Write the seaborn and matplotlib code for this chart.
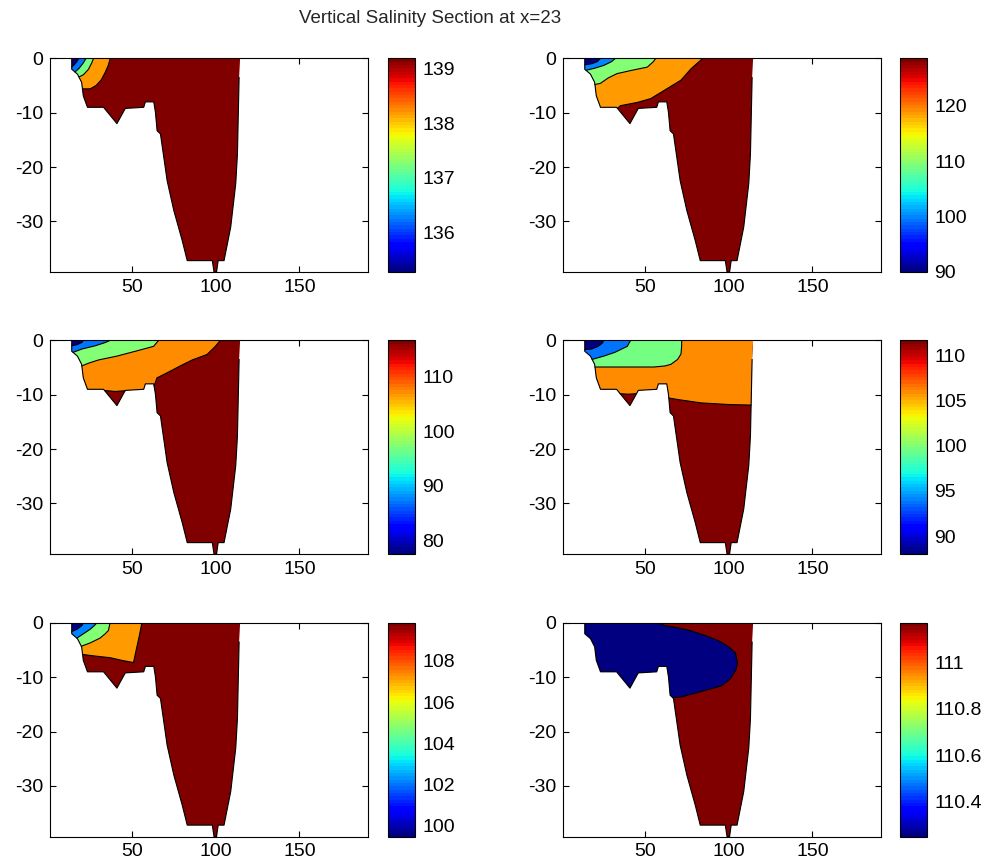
import numpy as np
import matplotlib
matplotlib.use('Agg')
import matplotlib.pyplot as plt
from matplotlib.colors import Normalize
from matplotlib.patches import Polygon
from matplotlib.ticker import FormatStrFormatter
import matplotlib.cm as cm
import seaborn as sns

sns.set_style('ticks')
plt.rcParams['font.family'] = ['Liberation Sans', 'DejaVu Sans']
plt.rcParams['axes.unicode_minus'] = False

# bottom outline of the section: distance along section, depth (m)
bathy_x = [14.0, 14.0, 17.4, 19.9, 20.9, 23.4, 33.0, 41.0, 46.0, 57.0, 58.0, 63.0, 64.0, 65.0,
           67.0, 71.0, 75.0, 80.0, 83.0, 98.0, 99.0, 100.5, 101.5, 105.0, 109.0, 112.0, 113.0,
           114.0, 114.6]
bathy_z = [0.0, -2.0, -2.9, -4.4, -6.9, -9.0, -9.0, -12.0, -9.2, -9.0, -8.0, -8.0, -9.9, -13.3,
           -13.9, -22.5, -28.0, -33.5, -37.2, -37.2, -39.3, -39.3, -37.2, -37.2, -31.0, -23.0,
           -17.6, -3.5, 0.0]

# colour range and ticks of each panel
cbar_min = [135.28, 89.9, 77.6, 88.0, 99.46, 110.25]
cbar_max = [139.18, 128.6, 116.5, 111.7, 109.85, 111.17]
cbar_ticks = [[136, 137, 138, 139], [90, 100, 110, 120], [80, 90, 100, 110],
              [90, 95, 100, 105, 110], [100, 102, 104, 106, 108], [110.4, 110.6, 110.8, 111]]

# contour lines of each panel (from the wall to the surface), the salinity
# on the filled side and which side is filled
p1_x = [[20.4, 25, 28.5, 31.5, 33.8, 35.8, 37],
        [18.5, 21, 24, 26, 27],
        [16.0, 18.5, 21, 22.5],
        [14.0, 16, 17.5, 18]]
p1_z = [[-5.6, -5.6, -5.0, -4.0, -2.7, -1.3, 0],
        [-3.4, -3.0, -2.0, -0.8, 0],
        [-2.5, -1.8, -0.8, 0],
        [-1.6, -1.0, -0.4, 0]]
p1_level = [138.2, 137.23, 136.25, 135.28]
p1_side = ['up', 'up', 'up', 'up']

p2_x = [[33.5, 35.3, 45.4, 53.4, 61.4, 71.5, 77.5, 84.5],
        [20.1, 23.3, 28, 33.3, 42, 51.4, 55, 56.4],
        [14.8, 20, 25.3, 30, 32.3],
        [14.0, 18, 21.5, 23.3]]
p2_z = [[-9.19, -8.7, -8.1, -7.4, -5.9, -4.0, -1.9, 0],
        [-4.8, -4.6, -3.6, -2.8, -2.2, -1.6, -0.6, 0],
        [-2.2, -1.8, -1.3, -0.6, 0],
        [-1.2, -1.0, -0.6, 0]]
p2_level = [118.9, 109.25, 99.6, 89.9]
p2_side = ['up', 'up', 'up', 'up']

p3_x = [[63.2, 64.9, 72, 78.8, 86, 94.8, 99.5, 102.8],
        [33.6, 40, 45.9],
        [20.0, 24, 30, 40.9, 52, 62.9, 65.9],
        [14.8, 20, 28, 34, 36.9],
        [14.0, 17, 20, 21]]
p3_z = [[-8.4, -6.9, -5.8, -4.7, -3.6, -2.6, -1.2, 0],
        [-9.22, -9.4, -9.26],
        [-4.7, -4.2, -3.6, -2.9, -2.0, -1.1, 0],
        [-2.2, -1.6, -1.0, -0.4, 0],
        [-1.0, -0.8, -0.4, 0]]
p3_level = [106.8, 116.5, 97.05, 87.3, 77.6]
p3_side = ['up', 'down', 'up', 'up', 'up']

p4_x = [[64.2, 70, 83.5, 100, 113.4],
        [35.1, 40, 44.9],
        [20.1, 40, 55.4, 62, 65.5, 69.5, 71.5, 71.9, 71.9],
        [18.4, 25.3, 32, 39.4, 41.4],
        [14.0, 18, 22, 24.5, 25.3]]
p4_z = [[-10.6, -10.9, -11.5, -11.8, -11.9],
        [-9.8, -9.9, -9.8],
        [-4.9, -4.9, -4.9, -4.7, -4.4, -3.5, -2.5, -1.0, 0],
        [-3.5, -2.9, -2.2, -1.1, 0],
        [-1.7, -1.6, -1.1, -0.5, 0]]
p4_level = [105.8, 111.7, 99.85, 93.9, 88.0]
p4_side = ['up', 'down', 'up', 'up', 'up']

p5_x = [[20.4, 28, 36.9, 44, 50.9, 52.5, 54.3, 55.9],
        [19.7, 24.9, 30.9, 34, 35.9, 36.9],
        [17.1, 20, 24.9, 27.5, 29],
        [14.0, 17, 20, 21]]
p5_z = [[-5.8, -6.1, -6.4, -6.9, -7.3, -5.0, -2.5, 0],
        [-4.3, -3.7, -2.8, -2.0, -1.4, 0],
        [-2.8, -2.2, -1.2, -0.5, 0],
        [-1.6, -1.2, -0.5, 0]]
p5_level = [107.25, 104.66, 102.06, 99.46]
p5_side = ['up', 'up', 'up', 'up']

p6_x = [[66.5, 72, 81.5, 95.6, 101, 104.5, 105.2, 104, 99.6, 94, 87.5, 78, 69.5, 62, 57.4]]
p6_z = [[-13.75, -13.6, -12.8, -11.6, -10.3, -8.5, -7.3, -5.5, -4.3, -3.3, -2.5, -1.5, -0.9,
         -0.5, 0]]
p6_level = [110.25]
p6_side = ['up']

panels = [(p1_x, p1_z, p1_level, p1_side), (p2_x, p2_z, p2_level, p2_side),
          (p3_x, p3_z, p3_level, p3_side), (p4_x, p4_z, p4_level, p4_side),
          (p5_x, p5_z, p5_level, p5_side), (p6_x, p6_z, p6_level, p6_side)]

jet64 = matplotlib.colormaps['jet'].resampled(64)
pts = np.column_stack([bathy_x, bathy_z])


def seg_index(p):
    # outline segment closest to point p
    a, b = pts[:-1], pts[1:]
    ab = b - a
    t = np.clip(((p - a) * ab).sum(1) / (ab ** 2).sum(1), 0, 1)
    d = np.hypot(*(a + ab * t[:, None] - p).T)
    return int(np.argmin(d)) + 1


def region(xs, zs, side):
    line = np.column_stack([xs, zs])
    i = seg_index(line[0])
    j = seg_index(line[-1]) if zs[-1] < -0.01 else len(pts)
    if side == 'up':
        return np.vstack([pts[:i], line, pts[j:]])
    return np.vstack([line, pts[i:j][::-1]])


fig = plt.figure(figsize=(9.86, 8.65), dpi=100)
col_left = [0.0507, 0.571]
cb_left = [0.3935, 0.9128]
row_bottom = [0.6855, 0.3595, 0.0329]
ax_w, ax_h, cb_w = 0.3225, 0.247, 0.0275

for k, (lx, lz, lev, side) in enumerate(panels):
    r, c = divmod(k, 2)
    ax = fig.add_axes([col_left[c], row_bottom[r], ax_w, ax_h])
    norm = Normalize(cbar_min[k], cbar_max[k])

    dom = Polygon(pts, closed=True, facecolor=jet64(norm(cbar_max[k])), edgecolor='none')
    ax.add_patch(dom)
    for xs, zs, lv, sd in zip(lx, lz, lev, side):
        poly = Polygon(region(xs, zs, sd), closed=True, facecolor=jet64(norm(lv)),
                       edgecolor='none')
        ax.add_patch(poly)
        poly.set_clip_path(dom)
    for xs, zs in zip(lx, lz):
        sns.lineplot(x=xs, y=zs, sort=False, estimator=None, color='black', lw=0.8, ax=ax)
    sns.lineplot(x=bathy_x[:-1], y=bathy_z[:-1], sort=False, estimator=None, color='black',
                 lw=0.8, ax=ax)

    ax.set_xlim(1, 191)
    ax.set_ylim(-39.3, 0)
    ax.set_xticks([50, 100, 150])
    ax.set_yticks([0, -10, -20, -30])
    ax.tick_params(direction='in', top=True, right=True, length=4, width=0.8,
                   labelsize=14, colors='black', pad=5)
    for s in ax.spines.values():
        s.set_color('black')
        s.set_linewidth(0.8)

    cax = fig.add_axes([cb_left[c], row_bottom[r], cb_w, ax_h])
    sm = cm.ScalarMappable(norm=norm, cmap=jet64)
    cb = fig.colorbar(sm, cax=cax, ticks=cbar_ticks[k])
    cb.ax.yaxis.set_major_formatter(FormatStrFormatter('%g'))
    cb.ax.tick_params(direction='in', left=True, right=True, length=3, width=0.8,
                      labelsize=14, colors='black', pad=5)
    cb.outline.set_edgecolor('black')
    cb.outline.set_linewidth(0.8)

fig.text(0.436, 0.979, 'Vertical Salinity Section at x=23', ha='center', va='center',
         fontsize=13.5)

fig.savefig('out.png', dpi=100)
